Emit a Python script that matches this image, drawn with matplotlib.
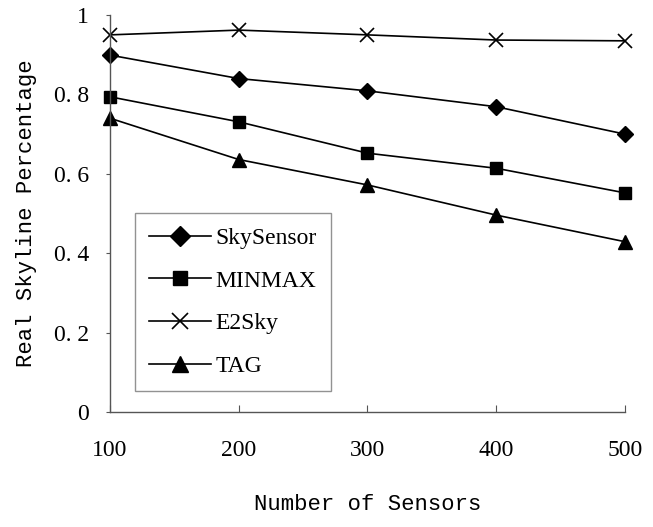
import matplotlib
matplotlib.use("Agg")
import matplotlib.pyplot as plt

sensors = [100, 200, 300, 400, 500]
skysensor = [0.899, 0.840, 0.809, 0.769, 0.700]
minmax = [0.794, 0.731, 0.652, 0.614, 0.552]
e2sky = [0.950, 0.962, 0.950, 0.937, 0.935]
tag = [0.740, 0.636, 0.572, 0.496, 0.429]
yticks = [0, 0.2, 0.4, 0.6, 0.8, 1.0]
ytick_labels = ["0", "0. 2", "0. 4", "0. 6", "0. 8", "1"]

fig = plt.figure(figsize=(6.53, 5.27), dpi=100)
ax = fig.add_axes([0.1685, 0.2182, 0.957 - 0.1685, 0.9715 - 0.2182])

lw = 1.2
ax.plot(sensors, skysensor, color="black", lw=lw, marker="D", ms=8.5, label="SkySensor", clip_on=False)
ax.plot(sensors, minmax, color="black", lw=lw, marker="s", ms=8.5, label="MINMAX", clip_on=False)
ax.plot(sensors, e2sky, color="black", lw=lw, marker="x", ms=10, mew=1.2, label="E2Sky", clip_on=False)
ax.plot(sensors, tag, color="black", lw=lw, marker="^", ms=10, label="TAG", clip_on=False)

ax.set_xlim(100, 500)
ax.set_ylim(0, 1)
ax.set_xticks(sensors)
ax.set_yticks(yticks)
ax.set_yticklabels(ytick_labels)

serif = "Liberation Serif"
mono = "Liberation Mono"
for lab in ax.get_xticklabels() + ax.get_yticklabels():
    lab.set_fontfamily(serif)
    lab.set_fontsize(17)

for s in ["top", "right"]:
    ax.spines[s].set_visible(False)
for s in ["left", "bottom"]:
    ax.spines[s].set_color("#555555")
    ax.spines[s].set_linewidth(1.0)

ax.tick_params(axis="x", direction="in", length=5, color="#555555", pad=20)
ax.tick_params(axis="y", direction="out", length=3, color="#555555", pad=12)

ax.set_xlabel("Number of Sensors", fontfamily=mono, fontsize=16, labelpad=24)
ax.set_ylabel("Real Skyline Percentage", fontfamily=mono, fontsize=16, labelpad=12)

leg = ax.legend(loc="upper left", bbox_to_anchor=(0.0485, 0.501), borderaxespad=0,
                frameon=True, fancybox=False, handlelength=2.6, handletextpad=0.2,
                labelspacing=0.9, borderpad=0.6, markerscale=1.15,
                prop={"family": serif, "size": 17})
leg.get_frame().set_edgecolor("#777777")
leg.get_frame().set_linewidth(1.0)

fig.savefig("out.png", dpi=100)
